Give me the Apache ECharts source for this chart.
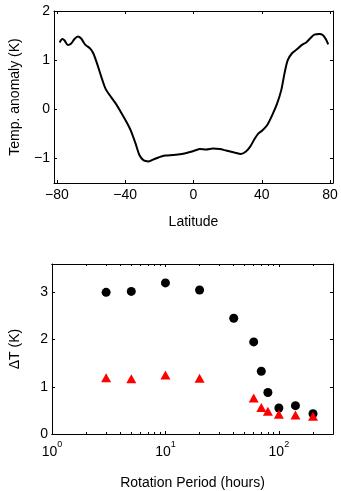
<!DOCTYPE html>
<html>
<head>
<meta charset="utf-8">
<script src="https://cdn.jsdelivr.net/npm/echarts@6/dist/echarts.min.js"></script>
<style>
  html, body { margin: 0; padding: 0; background: #fff; }
  #main { width: 341px; height: 491px; }
</style>
</head>
<body>
<div id="main"></div>
<script>
// top panel: zonal mean temperature anomaly vs latitude
var latitude = [-78.4, -76.8, -75.5, -73.6, -71.6, -69.7, -67.8, -65.8, -63.3, -60.6,
  -58.7, -56.2, -53.7, -51.4, -48.5, -45.6, -42.7, -39.4, -36.9, -34.0,
  -31.7, -29.2, -26.3, -23.4, -20.5, -16.6, -11.8, -6.9, -3.1, 0.8,
  3.7, 7.5, 11.4, 15.3, 19.1, 23.9, 27.8, 30.7, 33.2, 35.5,
  37.8, 40.3, 43.2, 46.1, 49.0, 51.4, 53.3, 55.2, 57.7, 60.6,
  63.5, 66.0, 68.3, 70.8, 73.7, 75.7, 77.6, 78.9];
var tempAnomaly = [1.36, 1.43, 1.40, 1.31, 1.34, 1.43, 1.48, 1.44, 1.31, 1.24,
  1.14, 0.90, 0.63, 0.41, 0.26, 0.12, -0.05, -0.25, -0.42, -0.69,
  -0.93, -1.04, -1.06, -1.02, -0.98, -0.94, -0.93, -0.91, -0.88, -0.84,
  -0.81, -0.82, -0.80, -0.81, -0.84, -0.88, -0.91, -0.86, -0.76, -0.62,
  -0.50, -0.43, -0.32, -0.12, 0.12, 0.39, 0.73, 1.00, 1.14, 1.22,
  1.31, 1.36, 1.44, 1.52, 1.53, 1.51, 1.42, 1.32];

// bottom panel: delta T vs rotation period
var circlePeriod = [3, 5, 10, 20, 40, 60, 70, 80, 100, 140, 200];
var circleDT = [3.00, 3.02, 3.20, 3.05, 2.45, 1.95, 1.33, 0.88, 0.55, 0.60, 0.43];
var trianglePeriod = [3, 5, 10, 20, 60, 70, 80, 100, 140, 200];
var triangleDT = [1.19, 1.17, 1.25, 1.18, 0.76, 0.56, 0.48, 0.42, 0.40, 0.375];

var latTicks = [-80, -40, 0, 40, 80];
var anomTicks = [-1, 0, 1, 2];
var dtTicks = [0, 1, 2, 3];
var periodTicks = [1, 10, 100];
var periodMinor = [2, 3, 4, 5, 6, 7, 8, 9, 20, 30, 40, 50, 60, 70, 80, 90, 200];

var font = 'Liberation Sans';
var black = '#000';
var fs = 14;

function pairs(xs, ys) {
  return xs.map(function (x, i) { return [x, ys[i]]; });
}

function minus(v) {
  return String(v).replace('-', '\u2212');
}

var line = { show: true, onZero: false, lineStyle: { color: black, width: 1 } };

function ticks(vals, len) {
  return { show: true, inside: true, length: len, customValues: vals, lineStyle: { color: black } };
}

function frameAxis(extra) {
  var base = {
    axisLine: line,
    axisLabel: { show: false },
    splitLine: { show: false }
  };
  return Object.assign(base, extra);
}

var nameStyle = { color: black, fontSize: fs, fontFamily: font };

var chart = echarts.init(document.getElementById('main'));

var option = {
  animation: false,
  backgroundColor: '#fff',
  textStyle: { fontFamily: font },
  grid: [
    { left: 51, top: 11, width: 282, height: 172 },
    { left: 51, top: 264, width: 282, height: 173 }
  ],
  xAxis: [
    frameAxis({
      type: 'value', gridIndex: 0, position: 'bottom', min: -81.7, max: 81.7,
      axisTick: ticks(latTicks, 3),
      axisLabel: { show: true, customValues: latTicks, color: black, fontSize: fs, fontFamily: font, margin: 5,
        formatter: minus },
      name: 'Latitude', nameLocation: 'middle', nameGap: 32, nameTextStyle: nameStyle
    }),
    frameAxis({
      type: 'value', gridIndex: 0, position: 'top', min: -81.7, max: 81.7,
      axisTick: ticks(latTicks, 3)
    }),
    frameAxis({
      type: 'log', logBase: 10, gridIndex: 1, position: 'bottom', min: 1, max: 300,
      axisTick: ticks(periodTicks, 3),
      axisLabel: { show: true, customValues: periodTicks, color: black, margin: 6,
        formatter: function (v) { return '{b|10}{s|' + Math.round(Math.log10(v)) + '}'; },
        rich: {
          b: { fontSize: fs, fontFamily: font, color: black, verticalAlign: 'bottom', lineHeight: 19 },
          s: { fontSize: 9, fontFamily: font, color: black, verticalAlign: 'top', lineHeight: 9 }
        } },
      name: 'Rotation Period (hours)', nameLocation: 'middle', nameGap: 42, nameTextStyle: nameStyle
    }),
    frameAxis({
      type: 'log', logBase: 10, gridIndex: 1, position: 'bottom', min: 1, max: 300,
      axisTick: ticks(periodMinor, 2)
    }),
    frameAxis({
      type: 'log', logBase: 10, gridIndex: 1, position: 'top', min: 1, max: 300,
      axisTick: ticks(periodTicks, 3)
    }),
    frameAxis({
      type: 'log', logBase: 10, gridIndex: 1, position: 'top', min: 1, max: 300,
      axisTick: ticks(periodMinor, 2)
    })
  ],
  yAxis: [
    frameAxis({
      type: 'value', gridIndex: 0, position: 'left', min: -1.5, max: 2,
      axisTick: ticks(anomTicks, 3),
      axisLabel: { show: true, customValues: anomTicks, color: black, fontSize: fs, fontFamily: font, margin: 4,
        formatter: minus },
      name: 'Temp. anomaly (K)', nameLocation: 'middle', nameGap: 32, nameRotate: 90, nameTextStyle: nameStyle
    }),
    frameAxis({
      type: 'value', gridIndex: 0, position: 'right', min: -1.5, max: 2,
      axisTick: ticks(anomTicks, 3)
    }),
    frameAxis({
      type: 'value', gridIndex: 1, position: 'left', min: 0, max: 3.6,
      axisTick: ticks(dtTicks, 3),
      axisLabel: { show: true, customValues: dtTicks, color: black, fontSize: fs, fontFamily: font, margin: 4 },
      name: '\u0394T (K)', nameLocation: 'middle', nameGap: 30, nameRotate: 90, nameTextStyle: nameStyle
    }),
    frameAxis({
      type: 'value', gridIndex: 1, position: 'right', min: 0, max: 3.6,
      axisTick: ticks(dtTicks, 3)
    })
  ],
  series: [
    {
      type: 'line', xAxisIndex: 0, yAxisIndex: 0,
      data: pairs(latitude, tempAnomaly),
      smooth: 0.3, showSymbol: false,
      lineStyle: { color: black, width: 2 }
    },
    {
      type: 'scatter', xAxisIndex: 2, yAxisIndex: 2,
      data: pairs(circlePeriod, circleDT),
      symbol: 'circle', symbolSize: 9,
      itemStyle: { color: black, opacity: 1 }
    },
    {
      type: 'scatter', xAxisIndex: 2, yAxisIndex: 2,
      data: pairs(trianglePeriod, triangleDT),
      symbol: 'triangle', symbolSize: [10, 9],
      itemStyle: { color: '#ff0000', opacity: 1 }
    }
  ]
};

chart.setOption(option);
</script>
</body>
</html>
